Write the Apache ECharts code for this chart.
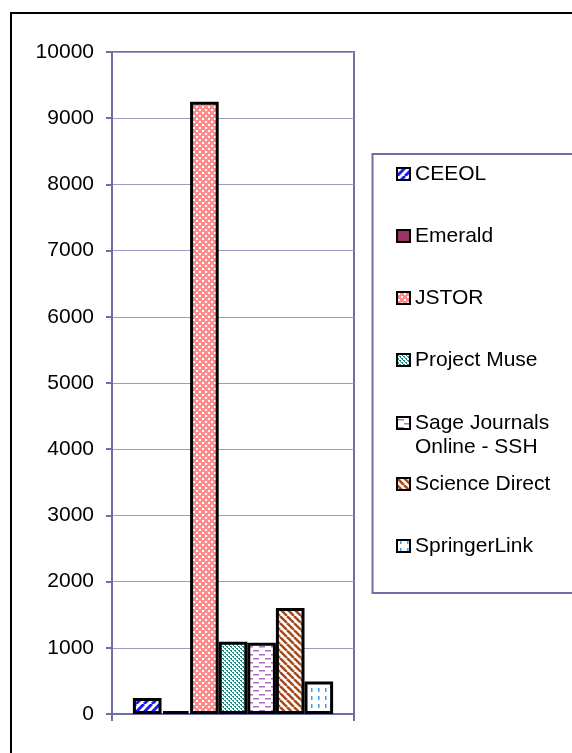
<!DOCTYPE html>
<html>
<head>
<meta charset="utf-8">
<script src="https://cdn.jsdelivr.net/npm/echarts@6/dist/echarts.min.js"></script>
<style>
  html, body { margin: 0; padding: 0; background: #fff; }
  #chart { width: 572px; height: 753px; }
</style>
</head>
<body>
<div id="chart"></div>
<script>
// data
const categories = ['']
const seriesNames = ['CEEOL', 'Emerald', 'JSTOR', 'Project Muse', 'Sage Journals\nOnline - SSH', 'Science Direct', 'SpringerLink']
const seriesValues = [240, 45, 9250, 1090, 1075, 1600, 490]
const yTicks = [0, 1000, 2000, 3000, 4000, 5000, 6000, 7000, 8000, 9000, 10000]

const FONT = '"Liberation Sans", Arial, sans-serif'
const FRAME = '#6f6fa3'

// small tiles used as fill patterns, like the excel hatches
const tile = (w, h, draw) => {
    const c = document.createElement('canvas')
    c.width = w
    c.height = h
    const ctx = c.getContext('2d')
    ctx.fillStyle = '#fff'
    ctx.fillRect(0, 0, w, h)
    draw(ctx)
    return { image: c, repeat: 'repeat' }
}
const diag = (color, size, width, up) => tile(size, size, ctx => {
    ctx.strokeStyle = color
    ctx.lineWidth = width
    for (let k = -1; k <= 1; k++) {
        ctx.beginPath()
        if (up) {
            ctx.moveTo(k * size, size)
            ctx.lineTo(k * size + size, 0)
        } else {
            ctx.moveTo(k * size, 0)
            ctx.lineTo(k * size + size, size)
        }
        ctx.stroke()
    }
})
const fills = [
    diag('#1a1aff', 8, 3, true),
    '#993366',
    tile(6, 6, ctx => {
        ctx.fillStyle = '#ff8c8c'
        ctx.fillRect(0, 0, 6, 6)
        ctx.fillStyle = '#fff'
        ctx.fillRect(1, 1, 2, 2)
        ctx.fillRect(4, 4, 2, 2)
    }),
    tile(4, 4, ctx => {
        ctx.fillStyle = '#1a8a80'
        ctx.fillRect(0, 0, 2, 1)
        ctx.fillRect(2, 2, 2, 1)
        ctx.fillRect(1, 1, 1, 1)
        ctx.fillRect(3, 3, 1, 1)
    }),
    tile(12, 8, ctx => {
        ctx.fillStyle = '#b070c0'
        ctx.fillRect(1, 2, 6, 1.5)
        ctx.fillRect(7, 6, 5, 1.5)
        ctx.fillRect(0, 6, 1, 1.5)
    }),
    diag('#a8481a', 7, 2.5, false),
    tile(7, 8, ctx => {
        ctx.fillStyle = '#3d9be9'
        ctx.fillRect(3, 0, 1.5, 4)
    })
]

const legendCenters = [173, 235, 297, 359, 422, 483, 545]

const chart = echarts.init(document.getElementById('chart'))
chart.setOption({
    animation: false,
    backgroundColor: '#fff',
    grid: { left: 112, right: 218, top: 52, bottom: 39, show: true, borderColor: FRAME, borderWidth: 2, backgroundColor: '#fff' },
    xAxis: {
        type: 'category',
        data: categories,
        axisLine: { lineStyle: { color: FRAME, width: 2 } },
        axisTick: { show: true, length: 7, lineStyle: { color: FRAME, width: 2 } },
        axisLabel: { show: false }
    },
    yAxis: {
        type: 'value',
        min: yTicks[0],
        max: yTicks[yTicks.length - 1],
        interval: 1000,
        axisLine: { show: true, lineStyle: { color: FRAME, width: 2 } },
        axisTick: { show: true, length: 6, lineStyle: { color: FRAME, width: 2 } },
        axisLabel: { color: '#000', fontFamily: FONT, fontSize: 21, margin: 18, formatter: v => String(v) },
        splitLine: { lineStyle: { color: '#9a9ac4', width: 1 } }
    },
    legend: seriesNames.map((name, i) => ({
        data: [name],
        left: 396,
        top: legendCenters[i] - (i === 4 ? 35 : 11),
        padding: 0,
        orient: 'vertical',
        icon: 'rect',
        itemWidth: 13,
        itemHeight: 12,
        selectedMode: false,
        itemStyle: { borderColor: '#000', borderWidth: 2 },
        // two-line name: an empty first line keeps the icon on "Sage Journals"
        formatter: n => (n.indexOf('\n') >= 0 ? ' \n' + n : n),
        textStyle: { color: '#000', fontFamily: FONT, fontSize: 21, lineHeight: 24 }
    })),
    series: seriesNames.map((name, i) => ({
        name: name,
        type: 'bar',
        barWidth: 28.6,
        barGap: '0%',
        data: [seriesValues[i]],
        itemStyle: { color: fills[i], borderColor: '#000', borderWidth: 3 },
        emphasis: { disabled: true }
    })),
    graphic: [
        { type: 'rect', shape: { x: 11, y: 13, width: 600, height: 800 }, style: { fill: 'none', stroke: '#000', lineWidth: 2 }, z: -1 },
        { type: 'rect', shape: { x: 372.5, y: 154, width: 260, height: 439 }, style: { fill: '#fff', stroke: FRAME, lineWidth: 2 }, z: -1 }
    ]
})
</script>
</body>
</html>
